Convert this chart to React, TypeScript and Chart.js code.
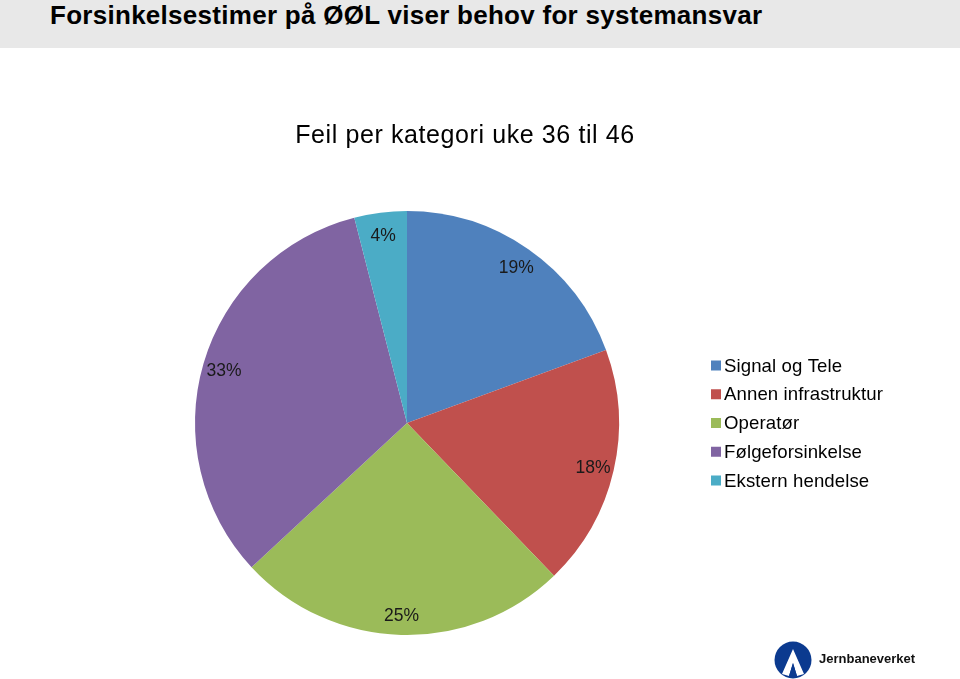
import React, { useEffect, useRef } from "react";
import { Chart, registerables } from "chart.js";

Chart.register(...registerables);

const headerText = "Forsinkelsestimer på ØØL viser behov for systemansvar";
const chartTitle = "Feil per kategori uke 36 til 46";
const categories = ["Signal og Tele", "Annen infrastruktur", "Operatør", "Følgeforsinkelse", "Ekstern hendelse"];
const values = [19.4, 18.4, 25.3, 32.9, 4.0];
const colors = ["#4F81BD", "#C0504D", "#9BBB59", "#8064A2", "#4BACC6"];

const FONT = "'Liberation Sans', Arial, Helvetica, sans-serif";

const labelPlugin = {
  id: "pieLabels",
  afterDatasetsDraw(chart: any) {
    const ctx = chart.ctx;
    const meta = chart.getDatasetMeta(0);
    const data = chart.data.datasets[0].data as number[];
    const total = data.reduce((a, b) => a + b, 0);
    ctx.save();
    ctx.font = `17.5px ${FONT}`;
    ctx.fillStyle = "#1a1a1a";
    ctx.textAlign = "center";
    ctx.textBaseline = "middle";
    meta.data.forEach((arc: any, i: number) => {
      const p = arc.getProps(["x", "y", "startAngle", "endAngle", "outerRadius"], true);
      const mid = (p.startAngle + p.endAngle) / 2;
      const r = p.outerRadius * 0.9;
      const x = p.x + Math.cos(mid) * r;
      const y = p.y + Math.sin(mid) * r + 2;
      ctx.fillText(Math.round((data[i] / total) * 100) + "%", x, y);
    });
    ctx.restore();
  },
};

const titleLegendPlugin = {
  id: "titleLegend",
  afterDraw(chart: any) {
    const ctx = chart.ctx;
    ctx.save();
    // title
    ctx.font = `25px ${FONT}`;
    (ctx as any).letterSpacing = "0.6px";
    ctx.fillStyle = "#000";
    ctx.textAlign = "center";
    ctx.textBaseline = "middle";
    ctx.fillText(chartTitle, 465, 88);
    // legend
    (ctx as any).letterSpacing = "0.1px";
    ctx.font = `18.6px ${FONT}`;
    ctx.textAlign = "left";
    const labels = chart.data.labels as string[];
    const bg = chart.data.datasets[0].backgroundColor as string[];
    labels.forEach((lab, i) => {
      const y = 317.5 + i * 28.75;
      ctx.fillStyle = bg[i];
      ctx.fillRect(711, y - 5, 10, 10);
      ctx.fillStyle = "#000";
      ctx.fillText(lab, 724, y + 1);
    });
    ctx.restore();
  },
};

export default function App() {
  const ref = useRef<HTMLCanvasElement | null>(null);
  useEffect(() => {
    if (!ref.current) return;
    const chart = new Chart(ref.current, {
      type: "pie",
      data: {
        labels: categories,
        datasets: [
          {
            data: values,
            backgroundColor: colors,
            borderWidth: 0,
          },
        ],
      },
      options: {
        animation: false,
        responsive: false,
        maintainAspectRatio: false,
        layout: { padding: { top: 163, bottom: 44, left: 195, right: 341 } },
        plugins: {
          title: { display: false },
          legend: { display: false },
          tooltip: { enabled: false },
        },
      },
      plugins: [labelPlugin, titleLegendPlugin],
    });
    return () => chart.destroy();
  }, []);

  return (
    <div style={{ position: "absolute", left: 0, top: 0, width: 960, height: 679, background: "#fff", overflow: "hidden" }}>
      <div
        style={{
          position: "absolute",
          left: 0,
          top: 0,
          width: 960,
          height: 48,
          background: "#e8e8e8",
        }}
      >
        <div
          style={{
            position: "absolute",
            left: 50,
            top: 0,
            fontFamily: "'Liberation Sans', Arial, sans-serif",
            fontWeight: "bold",
            fontSize: 26,
            letterSpacing: "0.28px",
            lineHeight: "30px",
            color: "#000",
            whiteSpace: "nowrap",
          }}
        >
          {headerText}
        </div>
      </div>
      <canvas ref={ref} width={960} height={631} style={{ position: "absolute", left: 0, top: 48, width: 960, height: 631 }} />
      <div style={{ position: "absolute", left: 774, top: 641, width: 150, height: 38 }}>
        <svg width={40} height={38} viewBox="0 0 40 38" style={{ position: "absolute", left: 0, top: 0 }}>
          <circle cx={19} cy={19} r={18.5} fill="#0b3a8f" />
          <path d="M19 8 L30 33 L23 35 L19 22 L15 35 L8 33 Z" fill="#ffffff" />
          <path d="M19 22 L23 35 L15 35 Z" fill="#0b3a8f" />
        </svg>
        <div
          style={{
            position: "absolute",
            left: 45,
            top: 10,
            fontFamily: FONT,
            fontWeight: "bold",
            fontSize: 13,
            color: "#111",
            whiteSpace: "nowrap",
          }}
        >
          Jernbaneverket
        </div>
      </div>
    </div>
  );
}
